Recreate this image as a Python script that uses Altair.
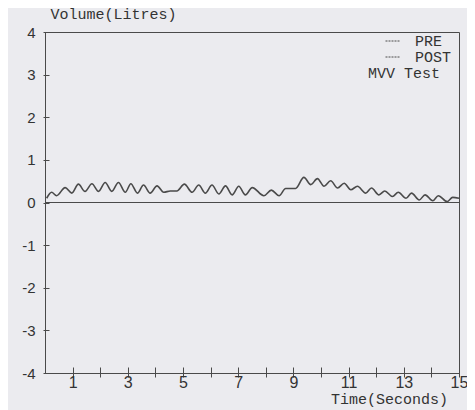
import altair as alt
import pandas as pd

# Extremes of the traced volume signal (seconds, litres)
time_s = [0.06, 0.24, 0.42, 0.73, 0.97, 1.21, 1.45, 1.70, 1.94, 2.18,
          2.42, 2.66, 2.91, 3.11, 3.35, 3.57, 3.81, 4.06, 4.30, 4.54,
          4.78, 5.05, 5.33, 5.57, 5.81, 6.05, 6.30, 6.54, 6.78, 7.02,
          7.26, 7.51, 7.93, 8.20, 8.48, 8.72, 9.08, 9.38, 9.63, 9.87,
          10.11, 10.35, 10.60, 10.84, 11.08, 11.32, 11.62, 11.83, 12.10, 12.31,
          12.59, 12.80, 13.08, 13.28, 13.56, 13.77, 14.05, 14.25, 14.57, 14.77,
          15.0]
volume_l = [0.10, 0.24, 0.16, 0.35, 0.22, 0.43, 0.26, 0.44, 0.26, 0.47,
            0.26, 0.47, 0.24, 0.44, 0.22, 0.41, 0.22, 0.39, 0.24, 0.27,
            0.27, 0.43, 0.24, 0.41, 0.22, 0.41, 0.20, 0.39, 0.18, 0.38,
            0.18, 0.35, 0.16, 0.29, 0.16, 0.33, 0.33, 0.59, 0.42, 0.56,
            0.38, 0.51, 0.34, 0.45, 0.30, 0.38, 0.22, 0.34, 0.18, 0.27,
            0.14, 0.24, 0.10, 0.22, 0.06, 0.18, 0.04, 0.16, 0.02, 0.12,
            0.10]
series_names = ["PRE", "POST"]
note_text = ["MVV Test"]
x_ticks = list(range(1, 16))
y_ticks = list(range(-4, 5))
zero_level = [0]

df = pd.DataFrame({"t": time_s, "v": volume_l, "series": series_names[0]})
zero_df = pd.DataFrame({"v": zero_level})
note_df = pd.DataFrame({"label": note_text})

MONO = "Liberation Mono"
SANS = "Liberation Sans"
INK = "#4a4a4a"
TXT = "#333333"
BG = "#ebebef"

x_enc = alt.X(
    "t:Q",
    scale=alt.Scale(domain=[0, 15], nice=False, zero=False),
    axis=alt.Axis(
        values=x_ticks,
        labelExpr="datum.value % 2 == 1 ? datum.label : ''",
        offset=-6, domain=False, grid=False,
        tickSize=10, tickColor=INK, tickWidth=1,
        labelFont=SANS, labelFontSize=16, labelColor=TXT, labelPadding=-3,
        labelFlush=False, labelBound=False, labelOverlap=False,
        title="Time(Seconds)", titleFont=MONO, titleFontSize=15,
        titleFontWeight="normal", titleColor=TXT,
        titleX=344, titleY=31, titleAlign="center", titleBaseline="middle",
    ),
)
y_enc = alt.Y(
    "v:Q",
    scale=alt.Scale(domain=[-4, 4], nice=False, zero=False),
    axis=alt.Axis(
        values=y_ticks,
        labelExpr="(datum.value < 0 ? '-' : '') + abs(datum.value)",
        offset=-4, domain=False, grid=False,
        tickSize=6, tickColor=INK, tickWidth=1,
        labelFont=SANS, labelFontSize=15, labelColor=TXT, labelPadding=8,
        labelFlush=False, labelBound=False, labelOverlap=False,
        title="Volume(Litres)", titleFont=MONO, titleFontSize=15,
        titleFontWeight="normal", titleColor=TXT, titleAngle=0,
        titleX=1, titleY=-19, titleAlign="left", titleBaseline="middle",
    ),
)

zero_rule = alt.Chart(zero_df).mark_rule(color=INK, strokeWidth=1.2).encode(
    y=alt.Y("v:Q", scale=alt.Scale(domain=[-4, 4], nice=False, zero=False))
)

line = alt.Chart(df).mark_line(interpolate="monotone", strokeWidth=1.6).encode(
    x=x_enc,
    y=y_enc,
    color=alt.Color(
        "series:N",
        scale=alt.Scale(domain=series_names, range=[INK, INK]),
        legend=alt.Legend(
            orient="none", legendX=340, legendY=1, title=None,
            symbolType="stroke", symbolSize=225, symbolStrokeWidth=1,
            symbolDash=[2, 1], symbolStrokeColor="#777777",
            labelFont=MONO, labelFontSize=15, labelColor=TXT,
            labelOffset=14, rowPadding=0, padding=0,
        ),
    ),
)

note = alt.Chart(note_df).mark_text(
    align="right", baseline="middle", font=MONO, fontSize=15, color=TXT
).encode(x=alt.value(395), y=alt.value(41), text="label:N")

chart = alt.layer(zero_rule, line, note).properties(
    width=414,
    height=341,
    background=BG,
    autosize=alt.AutoSizeParams(type="none"),
    padding={"left": 37, "top": 24, "right": 8, "bottom": 37},
).configure_view(stroke=INK, strokeWidth=1, fill=BG)

chart.save("out.html", embed_options={"renderer": "svg", "actions": False})
